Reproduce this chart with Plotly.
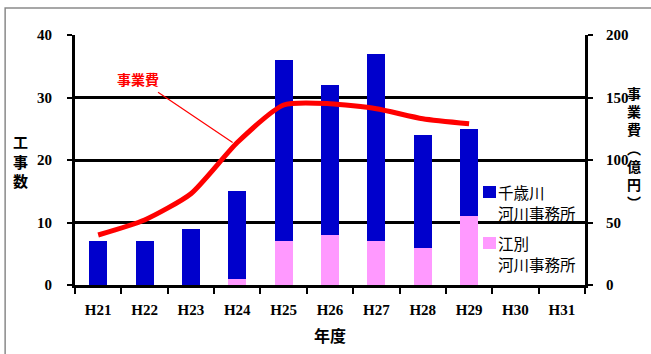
import plotly.graph_objects as go

years = ["H21", "H22", "H23", "H24", "H25", "H26", "H27", "H28", "H29", "H30", "H31"]
chitose = [7, 7, 9, 14, 29, 24, 30, 18, 14, None, None]
ebetsu = [0, 0, 0, 1, 7, 8, 7, 6, 11, None, None]
cost_years = ["H21", "H22", "H23", "H24", "H25", "H26", "H27", "H28", "H29"]
cost = [40, 52, 73, 114, 144, 145, 141, 133, 129]
legend_lines = [["千歳川", "河川事務所"], ["江別", "河川事務所"]]

BLUE = "#0000CC"
PINK = "#FF99FF"
JP = "Noto Sans CJK JP"
NUM = "Liberation Serif"
numfont = dict(family=NUM, size=15, color="black", weight="bold")

fig = go.Figure()
fig.add_trace(go.Bar(x=years, y=ebetsu, name="".join(legend_lines[1]),
                     marker=dict(color=PINK, line=dict(width=0)), showlegend=False))
fig.add_trace(go.Bar(x=years, y=chitose, name="".join(legend_lines[0]),
                     marker=dict(color=BLUE, line=dict(width=0)), showlegend=False))
fig.add_trace(go.Scatter(x=cost_years, y=cost, yaxis="y2", mode="lines",
                         line=dict(color="#FF0000", width=5, shape="spline", smoothing=0.6),
                         showlegend=False))

fig.update_layout(
    width=651, height=354,
    margin=dict(l=75, r=66, t=35, b=69),
    paper_bgcolor="white", plot_bgcolor="white",
    barmode="stack", bargap=0.61,
    font=dict(family=JP, color="black", size=14),
    xaxis=dict(type="category", range=[-0.5, 10.5], showline=True, linecolor="black", linewidth=3,
               ticks="outside", tickson="boundaries", ticklen=6, tickwidth=2, tickcolor="black",
               tickfont=numfont, ticklabelstandoff=9, showgrid=False,
               title=dict(text="<b>年度</b>", font=dict(family=JP, size=16), standoff=14)),
    yaxis=dict(range=[0, 40], dtick=10, showline=True, linecolor="black", linewidth=3,
               ticks="outside", ticklen=5, tickwidth=2, tickcolor="black",
               tickfont=numfont, ticklabelstandoff=12,
               showgrid=True, gridcolor="black", gridwidth=3, zeroline=False),
    yaxis2=dict(range=[0, 200], dtick=50, overlaying="y", side="right", showline=True,
                linecolor="black", linewidth=3, ticks="outside", ticklen=5, tickwidth=2,
                tickcolor="black", tickfont=numfont, ticklabelstandoff=10,
                showgrid=False, zeroline=False),
    showlegend=False,
)

def px(x):
    return (x - 75) / 510

def py(y):
    return (285 - y) / 250

fig.add_annotation(text="<b>事業費</b>", x=2.9, y=114, xref="x", yref="y2",
                   ax=-95, ay=-64, showarrow=True, arrowhead=0, arrowwidth=1.2,
                   arrowcolor="#FF0000", font=dict(family=JP, size=14, color="#FF0000"),
                   standoff=0, startstandoff=4)
fig.add_annotation(text="<b>工<br>事<br>数</b>", x=px(20), y=py(161), xref="paper", yref="paper",
                   xanchor="center", yanchor="middle",
                   showarrow=False, font=dict(family=JP, size=15), align="center")
fig.add_annotation(text="<b>事<br>業<br>費<br>︵<br>億<br>円<br>︶</b>", x=px(634), y=py(147),
                   xref="paper", yref="paper", xanchor="center", yanchor="middle",
                   showarrow=False, font=dict(family=JP, size=14), align="center")

# legend (manual, two-line entries)
for lines, color, center in [(legend_lines[0], BLUE, 192), (legend_lines[1], PINK, 243)]:
    fig.add_shape(type="rect", xref="paper", yref="paper",
                  x0=px(483), x1=px(496), y0=py(center + 6), y1=py(center - 6),
                  fillcolor=color, line=dict(width=0))
    for i, line in enumerate(lines):
        fig.add_annotation(text=line, x=px(497), y=py(center + 21 * i), xref="paper",
                           yref="paper", xanchor="left", yanchor="middle", align="left",
                           showarrow=False, borderpad=0,
                           font=dict(family=JP, size=15.5, color="black"))

fig.add_shape(type="rect", xref="paper", yref="paper", x0=-0.137, y0=-0.4, x1=1.2, y1=1.108,
              line=dict(color="#8a8a8a", width=1.5), layer="below")

fig.write_html("out.html")
